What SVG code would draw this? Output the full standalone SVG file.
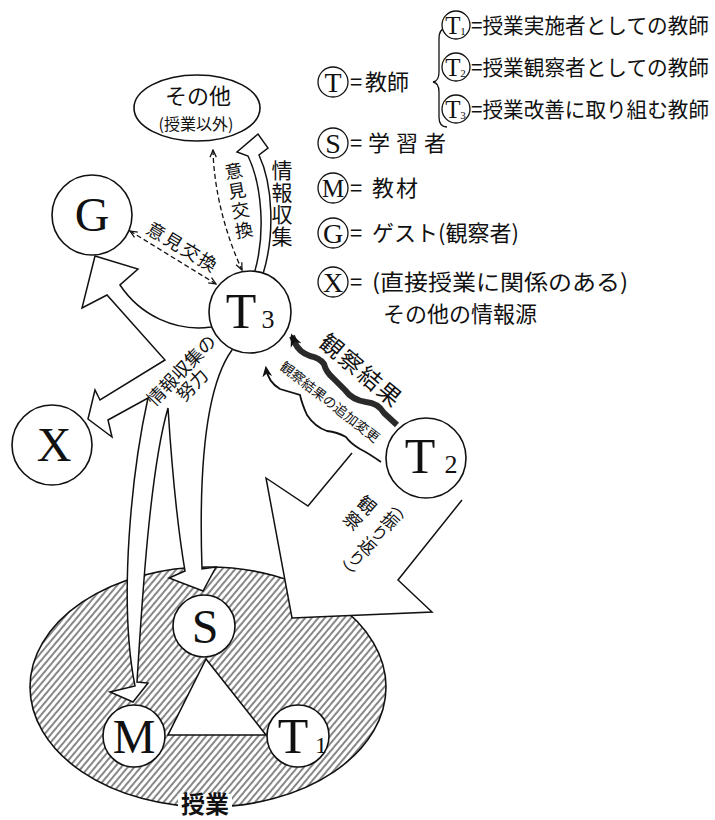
<svg xmlns="http://www.w3.org/2000/svg" width="715" height="820" viewBox="0 0 715 820">
<defs>
<style>
.jp{font-family:"Noto Sans CJK JP","Noto Sans CJK SC",sans-serif;fill:#111;}
.lt{font-family:"Liberation Serif","DejaVu Serif",serif;fill:#111;}
.vt{writing-mode:vertical-rl;}
.node{fill:#fff;stroke:#111;stroke-width:1.6;}
.lg{fill:#fff;stroke:#111;stroke-width:1.3;}
.big{fill:#fff;stroke:#111;stroke-width:1.5;stroke-linejoin:miter;}
.dash{fill:none;stroke:#111;stroke-width:1.3;stroke-dasharray:5 3;}
</style>
<pattern id="hatch" patternUnits="userSpaceOnUse" width="5" height="10" patternTransform="rotate(40)">
<rect width="5" height="10" fill="#fff"/>
<line x1="1" y1="0" x2="1" y2="10" stroke="#111" stroke-width="1"/>
</pattern>
<marker id="open" viewBox="0 0 10 10" refX="9" refY="5" markerWidth="9" markerHeight="9" markerUnits="userSpaceOnUse" orient="auto-start-reverse">
<path d="M1,1.5 L9,5 L1,8.5" fill="none" stroke="#111" stroke-width="1.4"/>
</marker>
<marker id="solid" viewBox="0 0 10 10" refX="8" refY="5" markerWidth="13" markerHeight="13" markerUnits="userSpaceOnUse" orient="auto">
<path d="M0,0.5 L10,5 L0,9.5 L3,5 z" fill="#111"/>
</marker>
<marker id="solid2" viewBox="0 0 10 10" refX="8" refY="5" markerWidth="11" markerHeight="11" markerUnits="userSpaceOnUse" orient="auto">
<path d="M0,0.5 L10,5 L0,9.5 L3,5 z" fill="#111"/>
</marker>
</defs>
<rect width="715" height="820" fill="#fff"/>

<g id="lesson">
<ellipse cx="208" cy="687" rx="178" ry="120" fill="url(#hatch)" stroke="#111" stroke-width="1.6"/>
<polygon points="206,659 168,735 266,735" fill="#fff" stroke="#111" stroke-width="1.6"/>
</g>

<g id="connectors">
<path class="big" d="M352,453 L308,506 L266,478 L292,618 L432,612 L398,580 L462,500"/>
<path class="big" d="M240,320 L211,327 C175,332 140,315 120,285 L138,269 L95,256 L82,308 L107,295 L165,360 L100,400 L95,390 L88,419 L112,437 L108,420 L148,398 C132,470 118,600 135,686 L110,692 L133,702 L148,683 L137,682 C142,600 150,470 168,408 C172,470 178,530 185,571 L169,578 L203,591 L216,567 L202,569 C199,480 203,390 232,350 Z"/>
<path class="big" stroke-width="1.3" d="M254,274 C266,235 262,185 248,156 L237,152 L258,134 L268,148 L259,155 C273,185 275,235 263,274 Z"/>
<path class="dash" d="M213,150 C214,195 228,240 242,270" marker-start="url(#open)" marker-end="url(#open)"/>
<path class="dash" d="M130,231 L216,284" marker-start="url(#open)" marker-end="url(#open)"/>
<path d="M397,425 L384,413 Q378,403 366,402 Q352,400 345,390 L333,378 Q326,372 324,364 Q320,358 310,356 Q299,352 295,343 L292,336" fill="none" stroke="#2a2a2a" stroke-width="6" stroke-linejoin="round" marker-end="url(#solid)"/>
<path d="M381,462 Q368,453 360,449 Q350,443 346,437 Q337,432 327,431 Q315,427 307,415 Q302,404 300,395 Q290,392 280,389 Q268,382 266,368" fill="none" stroke="#111" stroke-width="1.8" marker-end="url(#solid2)"/>
</g>

<g id="labels">
<text class="jp vt" x="282" y="160" font-size="21" letter-spacing="1">情報収集</text>
<text class="jp vt" font-size="18" letter-spacing="2" transform="translate(232,162) rotate(-10)" x="0" y="0">意見交換</text>
<text class="jp" font-size="18" text-anchor="middle" letter-spacing="2" transform="translate(183,247) rotate(31)" y="7">意見交換</text>
<g class="jp" font-size="18" text-anchor="middle" transform="translate(181,370) rotate(-46)">
<text x="0" y="7">情報収集の</text>
<text x="-3" y="25">努力</text>
</g>
<text class="jp" font-size="23" text-anchor="middle" letter-spacing="2" transform="translate(361,371) rotate(40)" y="8">観察結果</text>
<text class="jp" font-size="13.5" text-anchor="middle" transform="translate(330,402) rotate(38)" y="5">観察結果の追加変更</text>
<g class="jp" font-size="17" transform="translate(392,522) rotate(42)">
<text class="vt" x="-2" y="-17" style="font-feature-settings:'vhal'">（振り返り）</text>
<text class="vt" x="-30" y="-5" font-size="18" letter-spacing="3">観察</text>
</g>
</g>

<g id="node-other">
<ellipse class="node" cx="197" cy="108" rx="63" ry="33"/>
<text class="jp" x="198" y="104" font-size="22" text-anchor="middle">その他</text>
<text class="jp" x="196" y="130" font-size="16" text-anchor="middle">(授業以外)</text>
</g>
<g id="node-G">
<circle class="node" cx="92" cy="215" r="40"/>
<text class="lt" x="92" y="231" font-size="48" text-anchor="middle">G</text>
</g>
<g id="node-T3">
<circle class="node" cx="250" cy="312" r="41"/>
<text class="lt" x="241" y="328" font-size="50" text-anchor="middle">T</text>
<text class="lt" x="268" y="328" font-size="26" text-anchor="middle">3</text>
</g>
<g id="node-X">
<circle class="node" cx="52" cy="445" r="40"/>
<text class="lt" x="54" y="461" font-size="48" text-anchor="middle">X</text>
</g>
<g id="node-T2">
<circle class="node" cx="426" cy="458" r="40"/>
<text class="lt" x="420" y="473" font-size="50" text-anchor="middle">T</text>
<text class="lt" x="451" y="473" font-size="26" text-anchor="middle">2</text>
</g>
<g id="node-S">
<circle class="node" cx="204" cy="626" r="31"/>
<text class="lt" x="205" y="643" font-size="48" text-anchor="middle">S</text>
</g>
<g id="node-M">
<circle class="node" cx="134" cy="736" r="31"/>
<text class="lt" x="134" y="753" font-size="48" text-anchor="middle">M</text>
</g>
<g id="node-T1">
<circle class="node" cx="298" cy="736" r="31"/>
<text class="lt" x="293" y="753" font-size="50" text-anchor="middle">T</text>
<text class="lt" x="321" y="753" font-size="24" text-anchor="middle">1</text>
</g>
<g id="label-lesson">
<rect x="178" y="794" width="54" height="26" fill="#fff"/>
<text class="jp" x="205" y="813" font-size="24" font-weight="700" text-anchor="middle">授業</text>
</g>

<g id="legend">
<circle class="lg" cx="333" cy="82" r="15"/>
<text class="lt" x="333" y="92" font-size="28" text-anchor="middle">T</text>
<text class="jp" x="350" y="90" font-size="22">=</text>
<text class="jp" x="365" y="90" font-size="22">教師</text>
<path d="M447,28 Q439,28 439,39 L439,72 Q439,81 433,82 Q439,83 439,92 L439,117 Q439,127 447,127" fill="none" stroke="#111" stroke-width="1.3"/>
<circle class="lg" cx="456" cy="25" r="14"/>
<text class="lt" x="453" y="34" font-size="25" text-anchor="middle">T</text>
<text class="lt" x="463" y="35" font-size="11" text-anchor="middle">1</text>
<text class="jp" x="471" y="33" font-size="21" textLength="238" lengthAdjust="spacingAndGlyphs">=授業実施者としての教師</text>
<circle class="lg" cx="456" cy="67" r="14"/>
<text class="lt" x="453" y="76" font-size="25" text-anchor="middle">T</text>
<text class="lt" x="463" y="77" font-size="11" text-anchor="middle">2</text>
<text class="jp" x="471" y="75" font-size="21" textLength="238" lengthAdjust="spacingAndGlyphs">=授業観察者としての教師</text>
<circle class="lg" cx="456" cy="109" r="14"/>
<text class="lt" x="453" y="118" font-size="25" text-anchor="middle">T</text>
<text class="lt" x="463" y="119" font-size="11" text-anchor="middle">3</text>
<text class="jp" x="471" y="117" font-size="21" textLength="238" lengthAdjust="spacingAndGlyphs">=授業改善に取り組む教師</text>

<circle class="lg" cx="333" cy="143" r="15"/>
<text class="lt" x="333" y="153" font-size="28" text-anchor="middle">S</text>
<text class="jp" x="350" y="151" font-size="22">=</text>
<text class="jp" x="368" y="151" font-size="22" letter-spacing="6">学習者</text>

<circle class="lg" cx="333" cy="188" r="15"/>
<text class="lt" x="333" y="197" font-size="25" text-anchor="middle">M</text>
<text class="jp" x="350" y="196" font-size="22">=</text>
<text class="jp" x="372" y="196" font-size="22" letter-spacing="2">教材</text>

<circle class="lg" cx="333" cy="233" r="15"/>
<text class="lt" x="333" y="243" font-size="28" text-anchor="middle">G</text>
<text class="jp" x="350" y="241" font-size="22">=</text>
<text class="jp" x="372" y="241" font-size="22">ゲスト(観察者)</text>

<circle class="lg" cx="333" cy="282" r="15"/>
<text class="lt" x="333" y="292" font-size="28" text-anchor="middle">X</text>
<text class="jp" x="350" y="290" font-size="22">=</text>
<text class="jp" x="372" y="290" font-size="22" textLength="256" lengthAdjust="spacingAndGlyphs">(直接授業に関係のある)</text>
<text class="jp" x="383" y="322" font-size="22">その他の情報源</text>
</g>
</svg>
